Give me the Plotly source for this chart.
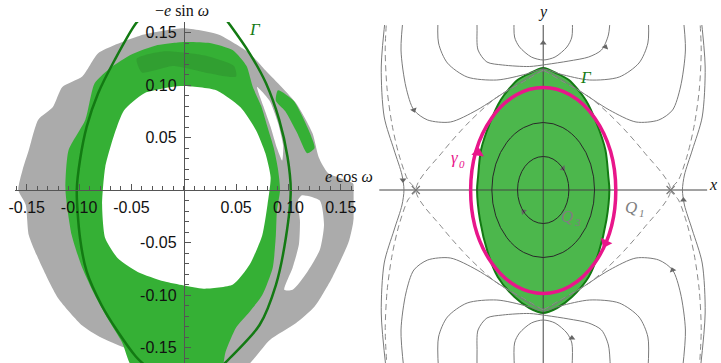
import plotly.graph_objects as go

# ---------------- LEFT PANEL DATA  (e cos w , -e sin w) ----------------
TICK_VALS = [-0.15, -0.10, -0.05, 0.05, 0.10, 0.15]
TICK_TEXT = ["-0.15", "-0.10", "-0.05", "0.05", "0.10", "0.15"]

GRAY_OUTER = [(0, 0.154), (-0.038, 0.148), (-0.066, 0.138), (-0.082, 0.130), (-0.097, 0.108),
              (-0.116, 0.098), (-0.125, 0.079), (-0.139, 0.067), (-0.148, 0.038), (-0.154, 0.019),
              (-0.158, 0.0), (-0.151, -0.014), (-0.148, -0.043), (-0.135, -0.074), (-0.120, -0.103),
              (-0.097, -0.129), (-0.080, -0.140), (-0.057, -0.150), (0.0, -0.168), (0.057, -0.170),
              (0.082, -0.143), (0.107, -0.127), (0.125, -0.111), (0.142, -0.083), (0.158, -0.048),
              (0.165, -0.010), (0.162, 0.006), (0.138, 0.016), (0.129, 0.031), (0.123, 0.054),
              (0.107, 0.083), (0.078, 0.114), (0.063, 0.130), (0.033, 0.148)]
GAP_A = [(0.070, 0.098), (0.082, 0.085), (0.090, 0.064), (0.095, 0.042), (0.094, 0.028),
         (0.089, 0.040), (0.083, 0.060), (0.076, 0.080)]
GAP_B = [(0.113, -0.005), (0.130, -0.010), (0.134, -0.033), (0.130, -0.057), (0.118, -0.078),
         (0.104, -0.095), (0.096, -0.095), (0.104, -0.074), (0.110, -0.052), (0.111, -0.029),
         (0.109, -0.010)]
GREEN_PATCH = [(0.090, 0.095), (0.105, 0.085), (0.118, 0.060), (0.125, 0.040), (0.118, 0.035),
               (0.108, 0.055), (0.097, 0.075), (0.088, 0.085)]
GREEN_OUTER = [(0, 0.141), (-0.025, 0.138), (-0.050, 0.129), (-0.069, 0.117), (-0.085, 0.102),
               (-0.094, 0.067), (-0.110, 0.038), (-0.113, 0.0), (-0.107, -0.043), (-0.097, -0.074),
               (-0.085, -0.100), (-0.073, -0.122), (-0.059, -0.145), (-0.047, -0.172), (0.035, -0.172),
               (0.040, -0.154), (0.050, -0.131), (0.063, -0.116), (0.075, -0.100), (0.085, -0.074),
               (0.088, -0.043), (0.089, -0.020), (0.092, 0.0), (0.090, 0.020), (0.086, 0.040),
               (0.080, 0.060), (0.074, 0.080), (0.066, 0.098), (0.060, 0.118), (0.047, 0.133),
               (0.025, 0.140)]
DARK_PATCH = [(-0.045, 0.125), (-0.020, 0.132), (0.020, 0.128), (0.048, 0.118), (0.050, 0.108),
              (0.020, 0.112), (-0.010, 0.118), (-0.040, 0.112)]
GREEN_HOLE = [(0, 0.099), (0.031, 0.095), (0.054, 0.079), (0.069, 0.057), (0.078, 0.035),
              (0.083, 0.012), (0.080, -0.014), (0.075, -0.043), (0.063, -0.071), (0.047, -0.090),
              (0.019, -0.094), (0.0, -0.091), (-0.019, -0.087), (-0.044, -0.078), (-0.063, -0.065),
              (-0.075, -0.046), (-0.078, -0.014), (-0.075, 0.022), (-0.066, 0.054), (-0.057, 0.076),
              (-0.038, 0.092), (-0.012, 0.098)]
GAMMA_R = [(0.036, 0.168), (0.0443, 0.1571), (0.0629, 0.1302), (0.0786, 0.1016), (0.0912, 0.0667),
           (0.0991, 0.0317), (0.1022, 0.0), (0.0975, -0.0457), (0.0880, -0.0905), (0.0724, -0.1286),
           (0.0441, -0.160), (0.036, -0.168)]
GAMMA_L = [(-0.036, 0.168), (-0.0456, 0.1588), (-0.066, 0.1238), (-0.0818, 0.0921), (-0.0927, 0.0603),
           (-0.0991, 0.0286), (-0.1022, 0.0), (-0.0991, -0.0457), (-0.0927, -0.0778), (-0.0786, -0.1095),
           (-0.0629, -0.135), (-0.0456, -0.1588), (-0.036, -0.168)]

# ---------------- RIGHT PANEL DATA (phase plane x, y) ----------------
GAMMA_HALF = [(0, 1.22), (0.13, 1.17), (0.26, 1.10), (0.43, 0.90), (0.54, 0.67), (0.63, 0.40),
              (0.66, 0.13), (0.67, 0.0), (0.64, -0.30), (0.56, -0.63), (0.46, -0.87), (0.29, -1.07),
              (0.14, -1.18), (0, -1.23)]
# ellipses: (x_left, x_right, y_bottom, y_top)
GAMMA0_BOX = (-0.735, 0.735, -1.035, 1.025)
E1_BOX = (-0.26, 0.26, -0.335, 0.335)
E2_BOX = (-0.52, 0.52, -0.675, 0.675)
T1 = [(-0.29, 1.8), (-0.29, 1.53), (-0.24, 1.43), (-0.12, 1.33), (0, 1.30), (0.12, 1.33),
      (0.24, 1.43), (0.29, 1.53), (0.29, 1.8)]
T2 = [(-0.67, 1.8), (-0.67, 1.62), (-0.66, 1.40), (-0.57, 1.28), (-0.41, 1.25), (-0.14, 1.235),
      (0.03, 1.255), (0.26, 1.29), (0.46, 1.33), (0.59, 1.40), (0.66, 1.55), (0.68, 1.8)]
T3 = [(-1.06, 1.8), (-1.06, 1.47), (-0.97, 1.27), (-0.77, 1.13), (-0.47, 1.10), (-0.17, 1.16),
      (0, 1.21), (0.17, 1.16), (0.47, 1.10), (0.77, 1.13), (0.97, 1.27), (1.06, 1.47), (1.06, 1.8)]
T4 = [(-1.41, 1.8), (-1.44, 1.40), (-1.39, 1.03), (-1.31, 0.80), (-1.17, 0.70), (-0.94, 0.68),
      (-0.67, 0.80), (-0.34, 1.01), (-0.07, 1.17), (0, 1.19), (0.07, 1.17), (0.34, 1.01),
      (0.67, 0.80), (0.94, 0.68), (1.17, 0.70), (1.31, 0.80), (1.39, 1.03), (1.44, 1.40), (1.41, 1.8)]
SIDE_Q = [(1.41, 0.0), (1.43, 0.15), (1.51, 0.40), (1.61, 0.73), (1.64, 1.23), (1.59, 1.8)]
SEP_OUT_Q = [(1.29, 0.0), (1.37, 0.10), (1.46, 0.35), (1.53, 0.65), (1.58, 1.0), (1.60, 1.4), (1.58, 1.8)]
SEP_IN_Q = [(1.29, 0.0), (1.02, 0.38), (0.75, 0.68), (0.48, 0.92), (0.17, 1.10), (0, 1.20)]
SADDLES = [(-1.29, 0.0), (1.29, 0.0)]
GRAY_ARROWS = [(-1.31, 0.80, 160), (0.63, 1.43, 20), (-1.42, 0.10, 180), (1.42, -0.10, 0),
               (1.31, -0.80, 340), (0.29, -1.48, 0), (0.20, 0.215, 135), (-0.20, -0.215, 315),
               (0, 1.47, 0)]
MAGENTA_ARROWS = [(-0.66, 0.37, 8), (0.63, -0.53, 205)]

GREEN = "#35b035"
GRAY = "#ababab"
DKGREEN = "#137a13"
MAGENTA = "#e8168a"
LINEGRAY = "#7a7a7a"


def xs(p):
    return [a for a, b in p]


def ys(p):
    return [b for a, b in p]


def wrap(p):
    return [p[-1]] + p + [p[0], p[1]]


def mirx(p):
    return [(-a, b) for a, b in p]


def miry(p):
    return [(a, -b) for a, b in p]


def full_from_half(h):
    return h + [(-a, b) for a, b in reversed(h[1:-1])]


fig = go.Figure()


def fillpoly(pts, color, xa="x", ya="y", line=None, smooth=0.6):
    q = wrap(pts)
    fig.add_trace(go.Scatter(x=xs(q), y=ys(q), mode="lines", fill="toself", fillcolor=color,
                             line=line or dict(width=0, color=color, shape="spline", smoothing=smooth),
                             xaxis=xa, yaxis=ya, hoverinfo="skip", showlegend=False))


def curve(pts, color, width=1, dash=None, xa="x2", ya="y2", smooth=0.8):
    fig.add_trace(go.Scatter(x=xs(pts), y=ys(pts), mode="lines",
                             line=dict(color=color, width=width, dash=dash, shape="spline",
                                       smoothing=smooth),
                             xaxis=xa, yaxis=ya, hoverinfo="skip", showlegend=False))


# ---- left panel ----
fillpoly(GRAY_OUTER, GRAY)
fillpoly(GAP_A, "white")
fillpoly(GAP_B, "white")
fillpoly(GREEN_PATCH, GREEN)
fillpoly(GREEN_OUTER, GREEN)
fillpoly(DARK_PATCH, "rgba(40,120,40,0.3)")
fillpoly(GREEN_HOLE, "white")
curve(GAMMA_R, DKGREEN, 2.5, xa="x", ya="y")
curve(GAMMA_L, DKGREEN, 2.5, xa="x", ya="y")

# ---- right panel ----
fillpoly(full_from_half(GAMMA_HALF), "#4cb74c", "x2", "y2",
         line=dict(color=DKGREEN, width=2, shape="spline", smoothing=0.8))
curve([(-1.66, 0), (1.66, 0)], "#444444", 1)
curve([(0, -1.8), (0, 1.8)], "#444444", 1)
for c in (T1, T2, T3, T4):
    curve(c, LINEGRAY, 1)
    curve(miry(c), LINEGRAY, 1)
side_r = list(reversed(miry(SIDE_Q)))[:-1] + SIDE_Q
curve(side_r, LINEGRAY, 1)
curve(mirx(side_r), LINEGRAY, 1)
for q in (SEP_OUT_Q, SEP_IN_Q):
    full = list(reversed(miry(q)))[:-1] + q
    curve(full, "#8a8a8a", 1, dash="6px,4px")
    curve(mirx(full), "#8a8a8a", 1, dash="6px,4px")

for box, col, wd in ((E1_BOX, "#2a2a2a", 1), (E2_BOX, "#2a2a2a", 1), (GAMMA0_BOX, MAGENTA, 3.5)):
    fig.add_shape(type="circle", xref="x2", yref="y2", x0=box[0], x1=box[1], y0=box[2], y1=box[3],
                  line=dict(color=col, width=wd), fillcolor="rgba(0,0,0,0)", layer="above")

fig.add_trace(go.Scatter(x=[a for a, b, c in GRAY_ARROWS], y=[b for a, b, c in GRAY_ARROWS],
                         mode="markers", xaxis="x2", yaxis="y2", hoverinfo="skip", showlegend=False,
                         marker=dict(symbol="triangle-up", size=6, color="#666666",
                                     angle=[c for a, b, c in GRAY_ARROWS], line=dict(width=0))))
fig.add_trace(go.Scatter(x=xs(SADDLES), y=ys(SADDLES), mode="markers", xaxis="x2", yaxis="y2",
                         hoverinfo="skip", showlegend=False,
                         marker=dict(symbol="x-thin", size=8, line=dict(width=1.2, color="#777777"))))
fig.add_trace(go.Scatter(x=[a for a, b, c in MAGENTA_ARROWS], y=[b for a, b, c in MAGENTA_ARROWS],
                         mode="markers", xaxis="x2", yaxis="y2", hoverinfo="skip", showlegend=False,
                         marker=dict(symbol="triangle-up", size=11, color=MAGENTA,
                                     angle=[c for a, b, c in MAGENTA_ARROWS], line=dict(width=0))))

W, H = 721, 363
tickfont = dict(family="Liberation Sans, Arial, sans-serif", size=16, color="#111111")
fig.update_layout(
    width=W, height=H, margin=dict(l=0, r=0, t=0, b=0),
    paper_bgcolor="white", plot_bgcolor="rgba(0,0,0,0)",
    xaxis=dict(domain=[9 / W, 352 / W], range=[-0.16132, 0.16226], anchor="free",
               position=(H - 190) / H, showgrid=False, zeroline=False,
               showline=True, linecolor="#555555", linewidth=1,
               tickmode="array", tickvals=TICK_VALS, ticktext=TICK_TEXT,
               ticks="inside", ticklen=6, tickcolor="#555555", tickfont=tickfont,
               ticklabelstandoff=3,
               minor=dict(tickmode="linear", tick0=0, dtick=0.01, ticks="inside", ticklen=4,
                          tickcolor="#555555", showgrid=False)),
    yaxis=dict(domain=[0, (H - 22) / H], range=[-0.16476, 0.16], anchor="free",
               position=180 / W, showgrid=False, zeroline=False,
               showline=True, linecolor="#555555", linewidth=1,
               tickmode="array", tickvals=TICK_VALS, ticktext=TICK_TEXT,
               ticks="inside", ticklen=6, tickcolor="#555555", tickfont=tickfont,
               ticklabelstandoff=4,
               minor=dict(tickmode="linear", tick0=0, dtick=0.01, ticks="inside", ticklen=4,
                          tickcolor="#555555", showgrid=False)),
    xaxis2=dict(domain=[372 / W, 716 / W], range=[-1.72, 1.72], visible=False),
    yaxis2=dict(domain=[0, (H - 25) / H], range=[-1.73, 1.65], visible=False, anchor="x2"),
)

serif = "Liberation Serif, DejaVu Serif, serif"


def label(px, py, text, color="#111111", size=16):
    fig.add_annotation(x=px / W, y=1 - py / H, xref="paper", yref="paper", text=text,
                       showarrow=False, xanchor="center", yanchor="middle",
                       font=dict(family=serif, size=size, color=color))


label(178, 10, "−<i>e</i> sin <i>ω</i>")
label(347, 177, "<i>e</i> cos <i>ω</i>")
label(252, 29, "<i>Γ</i>", DKGREEN, 17)
label(544, 12, "<i>y</i>")
label(716, 184, "<i>x</i>")
label(587, 78, "<i>Γ</i>", DKGREEN, 17)
label(455, 158, "<i>γ</i>", MAGENTA, 17)
label(462, 164, "<i>0</i>", MAGENTA, 11)
label(568, 216, "<i>Q</i>", "#808080", 17)
label(579, 222, "<i>3</i>", "#808080", 11)
label(633, 207, "<i>Q</i>", "#808080", 17)
label(644, 213, "<i>1</i>", "#808080", 11)

fig.write_html("out.html")
